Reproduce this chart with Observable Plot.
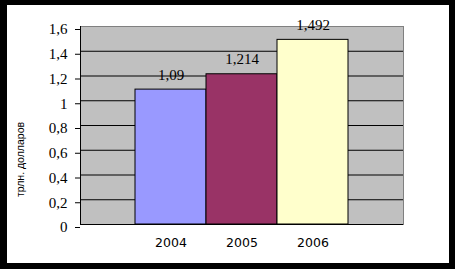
<!DOCTYPE html>
<html>
<head>
<meta charset="utf-8">
<script src="https://cdn.jsdelivr.net/npm/d3@7"></script>
<script src="https://cdn.jsdelivr.net/npm/@observablehq/plot@0.6"></script>
<style>
  html, body { margin: 0; padding: 0; background: #000; width: 455px; height: 269px; overflow: hidden; }
  #card { position: absolute; left: 7px; top: 5px; width: 442px; height: 258px; background: #fff; }
  #card svg { display: block; }
</style>
</head>
<body>
<div id="card"></div>
<script>
const years = ["2004", "2005", "2006"];
const values = [1.09, 1.214, 1.492];
const colors = ["#9999FF", "#993366", "#FFFFCC"];
const yTicks = [0, 0.2, 0.4, 0.6, 0.8, 1, 1.2, 1.4, 1.6];
const gridTicks = [0.2, 0.4, 0.6, 0.8, 1, 1.2, 1.4];
const yLabel = "трлн. долларов";

const data = years.map((y, i) => ({year: y, value: values[i], color: colors[i]}));
const fmt = d => String(d).replace(".", ",");

const chart = Plot.plot({
  width: 442,
  height: 258,
  marginLeft: 73,
  marginTop: 21,
  marginRight: 46,
  marginBottom: 39,
  style: {fontFamily: "'Liberation Serif', 'Times New Roman', serif", color: "#000", background: "#fff"},
  x: {type: "band", domain: years, paddingInner: 0, paddingOuter: 0.75, align: 0.5},
  y: {domain: [0, 1.6]},
  marks: [
    Plot.frame({fill: "#C0C0C0", stroke: "#808080"}),
    Plot.ruleY(gridTicks, {stroke: "#000", strokeWidth: 1}),
    Plot.barY(data, {x: "year", y: "value", fill: "color", stroke: "#000", strokeWidth: 1}),
    Plot.ruleY([0], {stroke: "#000", strokeWidth: 1}),
    Plot.frame({anchor: "left", stroke: "#000"}),
    Plot.axisY({ticks: yTicks, tickFormat: fmt, tickSize: 5, tickPadding: 8, fontSize: 15, dy: 3, label: null, stroke: "#000", fill: "#000"}),
    Plot.axisX({tickSize: 0, tickPadding: 14, fontSize: 12.5, fontFamily: "'DejaVu Sans', sans-serif", label: null, fill: "#000"}),
    Plot.text(data, {x: "year", y: "value", text: d => fmt(d.value), dy: -10, lineAnchor: "bottom", fontSize: 15, fill: "#000"}),
    Plot.text([yLabel], {frameAnchor: "left", textAnchor: "middle", dx: -60, dy: 34, rotate: -90, fontSize: 10.5, fontFamily: "'Liberation Sans', Arial, sans-serif", fill: "#000"})
  ]
});
document.getElementById("card").appendChild(chart);
</script>
</body>
</html>
